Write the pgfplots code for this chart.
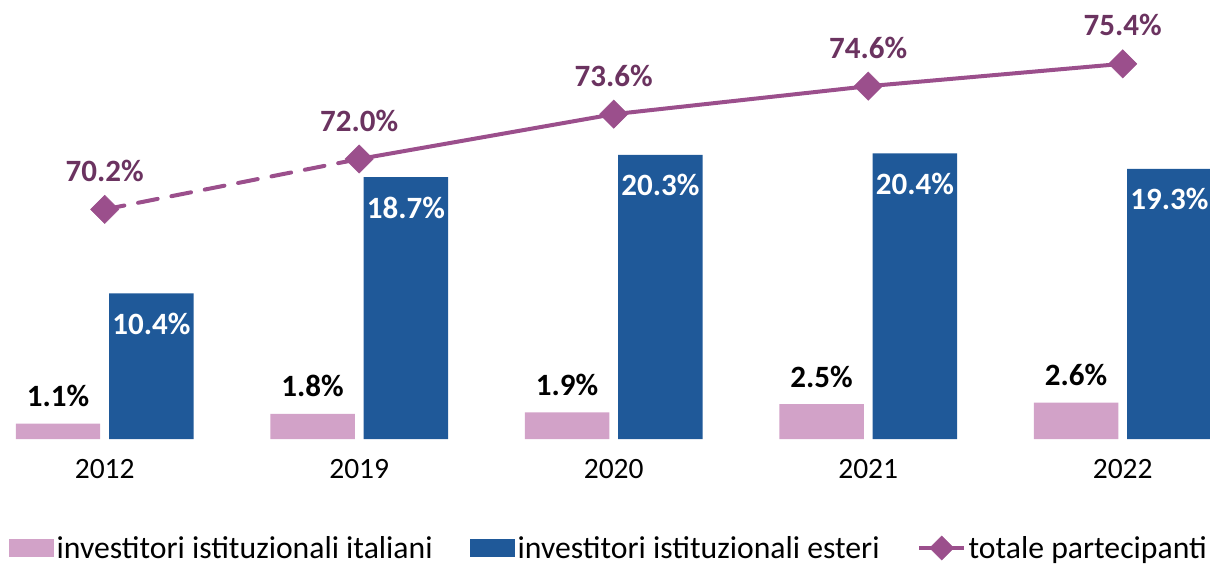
\documentclass[border=0pt]{standalone}
\usepackage{pgfplots}
\pgfplotsset{compat=1.18}
\usepackage{fontspec}
\setmainfont{Carlito}
\definecolor{cpink}{HTML}{D2A2C8}
\definecolor{cblue}{HTML}{1F5999}
\definecolor{cline}{HTML}{9B4F8C}
\definecolor{clab}{HTML}{6B3360}
\begin{document}
\begin{tikzpicture}[font=\fontsize{31.7}{37}\selectfont]
\useasboundingbox (0,0) rectangle (1210pt,563pt);
\begin{axis}[
  at={(0pt,124pt)}, anchor=south west,
  scale only axis, width=1210pt, height=420pt,
  xmin=-0.4114, xmax=4.3429, ymin=0, ymax=30,
  axis line style={draw=none}, tick style={draw=none},
  ytick=\empty,
  xtick={0,1,2,3,4},
  xticklabels={2012,2019,2020,2021,2022},
  xticklabel style={anchor=center, yshift=-30.5pt, font=\fontsize{29.5}{35}\selectfont},
  clip=false,
  legend columns=3,
  legend style={at={(0.5035,-0.2595)}, anchor=center, draw=none, fill=none,
    nodes={inner sep=2.5pt},
    /tikz/every even column/.append style={column sep=35pt}},
]
\addplot[ybar, bar width=0.332, bar shift=-0.1835, fill=cpink, draw=none,
  legend image code/.code={\fill[cpink] (0pt,-9pt) rectangle (45pt,9pt);},
  point meta=explicit symbolic, nodes near coords,
  every node near coord/.append style={text=black, font=\fontsize{31}{37}\selectfont\bfseries, anchor=center, xshift=-46.7pt, yshift=27.5pt}]
  coordinates {(0,1.1) [1.1\%] (1,1.8) [1.8\%] (2,1.9) [1.9\%] (3,2.5) [2.5\%] (4,2.6) [2.6\%]};
\addlegendentry{investitori istituzionali italiani}
\addplot[ybar, bar width=0.332, bar shift=0.1835, fill=cblue, draw=none,
  legend image code/.code={\fill[cblue] (0pt,-9pt) rectangle (45pt,9pt);},
  point meta=explicit symbolic, nodes near coords,
  every node near coord/.append style={text=white, font=\fontsize{31}{37}\selectfont\bfseries, anchor=center, xshift=46.7pt, yshift=-30.5pt}]
  coordinates {(0,10.4) [10.4\%] (1,18.7) [18.7\%] (2,20.3) [20.3\%] (3,20.4) [20.4\%] (4,19.3) [19.3\%]};
\addlegendentry{investitori istituzionali esteri}
\addlegendimage{cline, line width=4pt, mark=square*, mark size=8.5pt, mark options={rotate=45, solid, line width=0.5pt, fill=cline},
  legend image code/.code={\draw[mark repeat=2,mark phase=2] plot coordinates {(0pt,0pt) (22.5pt,0pt) (45pt,0pt)};}}
\addlegendentry{totale partecipanti}
\end{axis}
\begin{axis}[
  at={(0pt,124pt)}, anchor=south west,
  scale only axis, width=1210pt, height=420pt,
  xmin=-0.4114, xmax=4.3429, ymin=62, ymax=77,
  hide axis, clip=false,
]
\addplot[cline, line width=4pt, dash pattern=on 20pt off 14pt, line cap=round] coordinates {(0,70.2) (1,72.0)};
\addplot[cline, line width=4pt] coordinates {(1,72.0) (2,73.6) (3,74.6) (4,75.4)};
\addplot[only marks, mark=square*, mark size=10pt, mark options={rotate=45, draw=cline, fill=cline, line width=0.5pt},
  point meta=explicit symbolic, nodes near coords,
  every node near coord/.append style={text=clab, font=\fontsize{31}{37}\selectfont\bfseries, anchor=center, yshift=38.5pt}]
  coordinates {(0,70.2) [70.2\%] (1,72.0) [72.0\%] (2,73.6) [73.6\%] (3,74.6) [74.6\%] (4,75.4) [75.4\%]};
\end{axis}
\end{tikzpicture}
\end{document}
